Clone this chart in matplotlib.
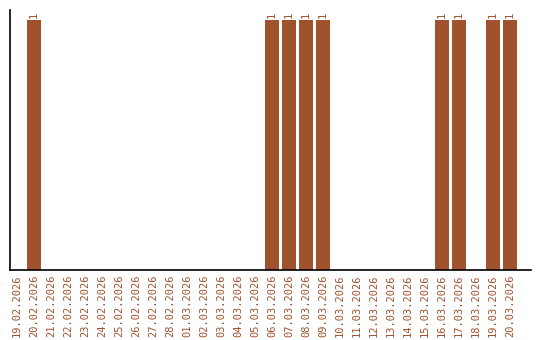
import matplotlib
matplotlib.use("Agg")
import matplotlib.pyplot as plt

# daily counts 19.02.2026 - 20.03.2026
dates = ["19.02.2026", "20.02.2026", "21.02.2026", "22.02.2026", "23.02.2026",
         "24.02.2026", "25.02.2026", "26.02.2026", "27.02.2026", "28.02.2026",
         "01.03.2026", "02.03.2026", "03.03.2026", "04.03.2026", "05.03.2026",
         "06.03.2026", "07.03.2026", "08.03.2026", "09.03.2026", "10.03.2026",
         "11.03.2026", "12.03.2026", "13.03.2026", "14.03.2026", "15.03.2026",
         "16.03.2026", "17.03.2026", "18.03.2026", "19.03.2026", "20.03.2026"]
counts = [0, 1, 0, 0, 0, 0, 0, 0, 0, 0,
          0, 0, 0, 0, 0, 1, 1, 1, 1, 0,
          0, 0, 0, 0, 0, 1, 1, 0, 1, 1]

bar_color = "#A0522D"
plt.rcParams["font.family"] = ["DejaVu Sans Mono"]

fig = plt.figure(figsize=(5.4, 3.4), dpi=100)
ax = fig.add_axes([10 / 540, 70 / 340, 520.5 / 540, 260 / 340])

x = range(len(dates))
ax.bar(x, counts, width=0.82, color=bar_color)
for xi, c in zip(x, counts):
    if c > 0:
        ax.text(xi, c + 0.01, str(c), rotation=90, ha="center", va="bottom",
                fontsize=7.5, color=bar_color)

# slots are 17 px wide, with some empty room at the right end
ax.set_xlim(-0.41, 30.2)
ax.set_ylim(0, 1.04)
ax.set_xticks(list(x))
ax.set_xticklabels(dates, rotation=90, fontsize=7.5, color=bar_color)
ax.tick_params(axis="x", length=0, pad=3)
ax.set_yticks([])
ax.spines["top"].set_visible(False)
ax.spines["right"].set_visible(False)
ax.spines["left"].set_linewidth(1.2)
ax.spines["bottom"].set_linewidth(1.2)

plt.savefig("out.png", dpi=100)
